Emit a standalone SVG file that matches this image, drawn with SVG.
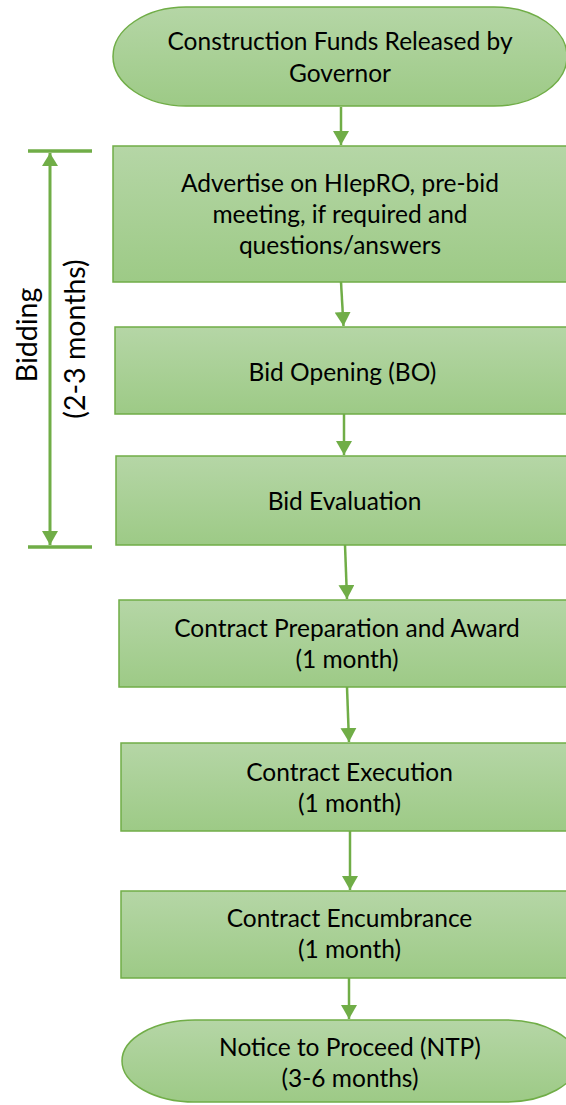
<svg xmlns="http://www.w3.org/2000/svg" width="566" height="1105" viewBox="0 0 566 1105">
<defs>
<linearGradient id="g" x1="0" y1="0" x2="0" y2="1">
<stop offset="0" stop-color="#b5d6a6"/>
<stop offset="1" stop-color="#9dca86"/>
</linearGradient>
<marker id="ah" markerUnits="userSpaceOnUse" markerWidth="14" markerHeight="16" refX="14" refY="8" orient="auto">
<path d="M0,0 L14,8 L0,16 Z" fill="#70ad47"/>
</marker>
<marker id="ahs" markerUnits="userSpaceOnUse" markerWidth="13" markerHeight="16" refX="0" refY="8" orient="auto">
<path d="M13,0 L0,8 L13,16 Z" fill="#70ad47"/>
</marker>
</defs>
<style>
.n{fill:url(#g);stroke:#70ad47;stroke-width:1.5}
.t{font-family:Lato,"Liberation Sans",sans-serif;font-size:24.5px;fill:#000;text-anchor:middle}
.r{font-size:28.5px}
.c{stroke:#70ad47;stroke-width:2.5;fill:none;marker-end:url(#ah)}
.b{stroke:#70ad47;stroke-width:3.5;fill:none}
</style>
<g id="start">
<path class="n" d="M186,7 H494 A73,49.5 0 0 1 494,106 H186 A73,49.5 0 0 1 186,7 Z"/>
<text class="t" x="340" y="50">Construction Funds Released by</text>
<text class="t" x="340" y="82">Governor</text>
</g>
<g id="advertise">
<rect class="n" x="113" y="146" width="456" height="136"/>
<text class="t" x="340" y="192">Advertise on HIepRO, pre-bid</text>
<text class="t" x="340" y="223">meeting, if required and</text>
<text class="t" x="340" y="254">questions/answers</text>
</g>
<g id="bid-opening">
<rect class="n" x="115" y="327" width="456" height="87"/>
<text class="t" x="342.5" y="381">Bid Opening (BO)</text>
</g>
<g id="bid-evaluation">
<rect class="n" x="116" y="456" width="456" height="89"/>
<text class="t" x="344.5" y="510">Bid Evaluation</text>
</g>
<g id="contract-preparation">
<rect class="n" x="119" y="600" width="456" height="87"/>
<text class="t" x="347" y="637">Contract Preparation and Award</text>
<text class="t" x="347" y="668">(1 month)</text>
</g>
<g id="contract-execution">
<rect class="n" x="121" y="743" width="456" height="88"/>
<text class="t" x="349.5" y="781">Contract Execution</text>
<text class="t" x="349.5" y="812">(1 month)</text>
</g>
<g id="contract-encumbrance">
<rect class="n" x="121" y="891" width="456" height="87"/>
<text class="t" x="349.5" y="927">Contract Encumbrance</text>
<text class="t" x="349.5" y="958">(1 month)</text>
</g>
<g id="ntp">
<path class="n" d="M195,1020 H505 A73,41 0 0 1 505,1102 H195 A73,41 0 0 1 195,1020 Z"/>
<text class="t" x="350" y="1056">Notice to Proceed (NTP)</text>
<text class="t" x="350" y="1087">(3-6 months)</text>
</g>
<g id="bidding-bracket">
<line class="b" x1="28" y1="151" x2="92" y2="151"/>
<line class="b" x1="28" y1="547" x2="92" y2="547"/>
<line x1="50" y1="153" x2="50" y2="545" stroke="#70ad47" stroke-width="3" marker-start="url(#ahs)" marker-end="url(#ah)"/>
<text class="t r" transform="translate(37,335) rotate(-90)">Bidding</text>
<text class="t r" transform="translate(85,339) rotate(-90)">(2-3 months)</text>
</g>
<g id="connectors">
<line class="c" x1="341" y1="107" x2="341" y2="145"/>
<line class="c" x1="341" y1="282" x2="343.5" y2="326"/>
<line class="c" x1="344" y1="414" x2="344" y2="455"/>
<line class="c" x1="345" y1="545" x2="347" y2="599"/>
<line class="c" x1="347" y1="687" x2="349" y2="742"/>
<line class="c" x1="350" y1="831" x2="350" y2="890"/>
<line class="c" x1="349" y1="978" x2="349" y2="1019"/>
</g>
</svg>
